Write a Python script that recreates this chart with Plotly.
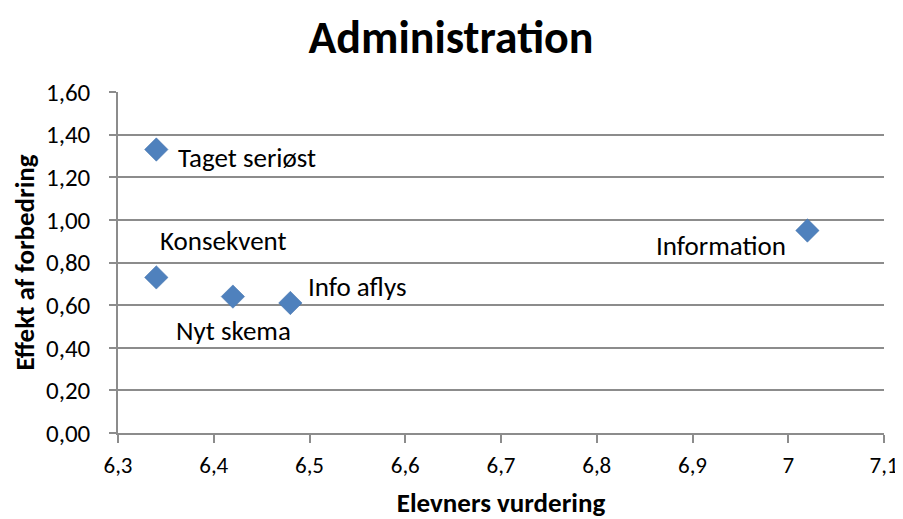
import plotly.graph_objects as go

BLUE = '#4F81BD'
GRID = '#8C8C8C'
FONT = 'Carlito, Lato, "Open Sans", sans-serif'

# data
names = ['Taget seriøst', 'Konsekvent', 'Nyt skema', 'Info aflys', 'Information']
elev_vurdering = [6.34, 6.34, 6.42, 6.48, 7.02]
effekt = [1.33, 0.73, 0.64, 0.61, 0.95]
x_ticks = [6.3, 6.4, 6.5, 6.6, 6.7, 6.8, 6.9, 7.0, 7.1]
x_tick_labels = ['6,3', '6,4', '6,5', '6,6', '6,7', '6,8', '6,9', '7', '7,1']
y_ticks = [0.0, 0.2, 0.4, 0.6, 0.8, 1.0, 1.2, 1.4, 1.6]
y_tick_labels = ['0,00', '0,20', '0,40', '0,60', '0,80', '1,00', '1,20', '1,40', '1,60']

# label placement per point: (xanchor, xshift, yshift)
label_pos = {
    'Taget seriøst': ('left', 20, -8),
    'Konsekvent': ('center', 67, 37),
    'Nyt skema': ('center', 1, -34),
    'Info aflys': ('left', 16, 16),
    'Information': ('right', -19, -15),
}

fig = go.Figure()
fig.add_scatter(
    x=elev_vurdering, y=effekt, mode='markers',
    marker=dict(symbol='diamond', size=18, color=BLUE, line=dict(width=0.5, color='#3F6FA8')),
    showlegend=False, hoverinfo='text', text=names,
)

for n, xv, yv in zip(names, elev_vurdering, effekt):
    anchor, dx, dy = label_pos[n]
    fig.add_annotation(x=xv, y=yv, text=n, showarrow=False, xanchor=anchor, yanchor='middle',
                       xshift=dx, yshift=dy, font=dict(size=27, color='black', family=FONT))

# page has an 8px body margin, so the figure is shifted by 8px in the window
fig.update_layout(
    width=897, height=511,
    margin=dict(l=110, r=21, t=84, b=86),
    paper_bgcolor='white', plot_bgcolor='white',
    font=dict(family=FONT, size=25, color='black'),
    title=dict(text='<b>Administration</b>', x=(451 - 8) / 897, xanchor='center', y=1 - 29 / 511, yanchor='middle',
               font=dict(size=46, family=FONT, color='black')),
)
fig.update_xaxes(
    range=[6.3, 7.1], tickvals=x_ticks, ticktext=x_tick_labels, automargin=False,
    showgrid=False, zeroline=False, showline=True, linecolor=GRID, linewidth=1.5,
    ticks='outside', ticklen=8, tickcolor=GRID, tickwidth=1.5, ticklabelstandoff=3,
    title=dict(text='<b>Elevners vurdering</b>', font=dict(size=27), standoff=39),
    tickfont=dict(size=23),
)
fig.update_yaxes(
    range=[0, 1.6], tickvals=y_ticks, ticktext=y_tick_labels, automargin=False,
    showgrid=True, gridcolor=GRID, gridwidth=1.5, zeroline=False,
    showline=True, linecolor=GRID, linewidth=1.5,
    ticks='outside', ticklen=7, tickcolor=GRID, tickwidth=1.5, ticklabelstandoff=14,
    title=dict(text='<b>Effekt af forbedring</b>', font=dict(size=27), standoff=18),
    tickfont=dict(size=25),
)

fig.write_html('out.html')
